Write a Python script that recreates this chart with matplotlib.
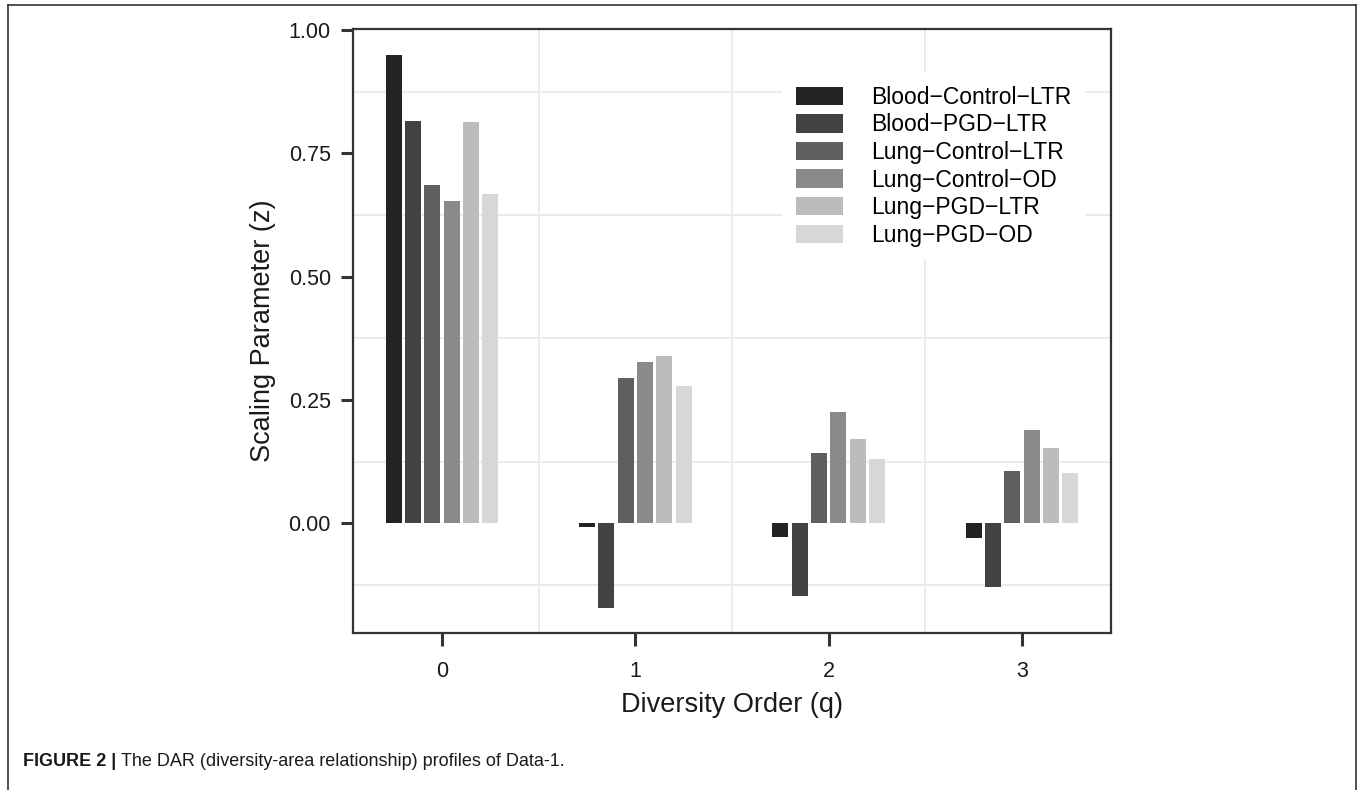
import numpy as np
import matplotlib
matplotlib.use("Agg")
import matplotlib.pyplot as plt
from matplotlib.lines import Line2D

# diversity order categories
orders = ["0", "1", "2", "3"]

# scaling parameter z per group, one list per sample type
series = ["Blood\u2212Control\u2212LTR", "Blood\u2212PGD\u2212LTR", "Lung\u2212Control\u2212LTR",
          "Lung\u2212Control\u2212OD", "Lung\u2212PGD\u2212LTR", "Lung\u2212PGD\u2212OD"]
blood_control_ltr = [0.949, -0.008, -0.028, -0.030]
blood_pgd_ltr = [0.816, -0.172, -0.148, -0.128]
lung_control_ltr = [0.686, 0.294, 0.142, 0.107]
lung_control_od = [0.653, 0.328, 0.225, 0.190]
lung_pgd_ltr = [0.814, 0.340, 0.172, 0.152]
lung_pgd_od = [0.668, 0.279, 0.130, 0.103]
values = [blood_control_ltr, blood_pgd_ltr, lung_control_ltr,
          lung_control_od, lung_pgd_ltr, lung_pgd_od]

yticks = [0.0, 0.25, 0.50, 0.75, 1.00]
ytick_labels = ["0.00", "0.25", "0.50", "0.75", "1.00"]

colors = ["#232323", "#424242", "#5f5f5f", "#8a8a8a", "#bcbcbc", "#d7d7d7"]

plt.rcParams["font.family"] = ["Liberation Sans", "DejaVu Sans"]

fig = plt.figure(figsize=(13.57, 7.90), dpi=100)
ax = fig.add_axes([353 / 1357, 1 - 633 / 790, (1111 - 353) / 1357, (633 - 29) / 790])

x = np.arange(len(orders))
step = 0.1
for i, (name, vals) in enumerate(zip(series, values)):
    offs = (i - 2.5) * step
    ax.bar(x + offs, vals, width=0.083, color=colors[i], label=name, zorder=3)

ax.set_xlim(-0.46, 3.46)
ax.set_ylim(-0.222, 1.002)

# gridlines sit between the labelled positions
for gy in [-0.125, 0.125, 0.375, 0.625, 0.875]:
    ax.axhline(gy, color="#ebebeb", lw=1.5, zorder=1)
for gx in [0.5, 1.5, 2.5]:
    ax.axvline(gx, color="#ebebeb", lw=1.5, zorder=1)

ax.set_xticks(x)
ax.set_xticklabels(orders)
ax.set_yticks(yticks)
ax.set_yticklabels(ytick_labels)
ax.tick_params(axis="both", length=9, width=2.2, color="#333333",
               labelsize=15.5, labelcolor="#1a1a1a")
ax.tick_params(axis="x", pad=11)
ax.tick_params(axis="y", pad=7)
for sp in ax.spines.values():
    sp.set_color("#333333")
    sp.set_linewidth(1.6)

ax.set_xlabel("Diversity Order (q)", fontsize=19.5, color="#1a1a1a", labelpad=7)
ax.set_ylabel("Scaling Parameter (z)", fontsize=19.5, color="#1a1a1a", labelpad=9)

leg = ax.legend(loc="upper left", bbox_to_anchor=((782 - 353) / (1111 - 353), 1 - (72 - 29) / (633 - 29)),
                fontsize=16.5, frameon=True, fancybox=False, framealpha=1,
                handlelength=2.05, handleheight=0.85, handletextpad=1.25,
                labelspacing=0.2, borderpad=0.6, borderaxespad=0)
leg.get_frame().set_edgecolor("white")
leg.get_frame().set_linewidth(0)
leg.set_zorder(2)

# outer frame around figure and caption
frame_kw = dict(color="#333333", lw=1.2, transform=fig.transFigure)
fig.add_artist(Line2D([8 / 1357, 8 / 1357], [0, 1 - 5 / 790], **frame_kw))
fig.add_artist(Line2D([8 / 1357, 1356 / 1357], [1 - 5 / 790, 1 - 5 / 790], **frame_kw))
fig.add_artist(Line2D([1356 / 1357, 1356 / 1357], [0, 1 - 5 / 790], **frame_kw))

cap_family = ["Liberation Sans Narrow", "Liberation Sans", "DejaVu Sans"]
t1 = fig.text(23 / 1357, 1 - 766 / 790, "FIGURE 2 | ", fontsize=13, fontweight="bold",
              family=cap_family, color="#1a1a1a", va="baseline")
fig.canvas.draw()
bb = t1.get_window_extent(fig.canvas.get_renderer())
fig.text(bb.x1 / fig.bbox.width, 1 - 766 / 790,
         "The DAR (diversity-area relationship) profiles of Data-1.", fontsize=13,
         family=cap_family, color="#1a1a1a", va="baseline")

fig.savefig("out.png", dpi=100)
